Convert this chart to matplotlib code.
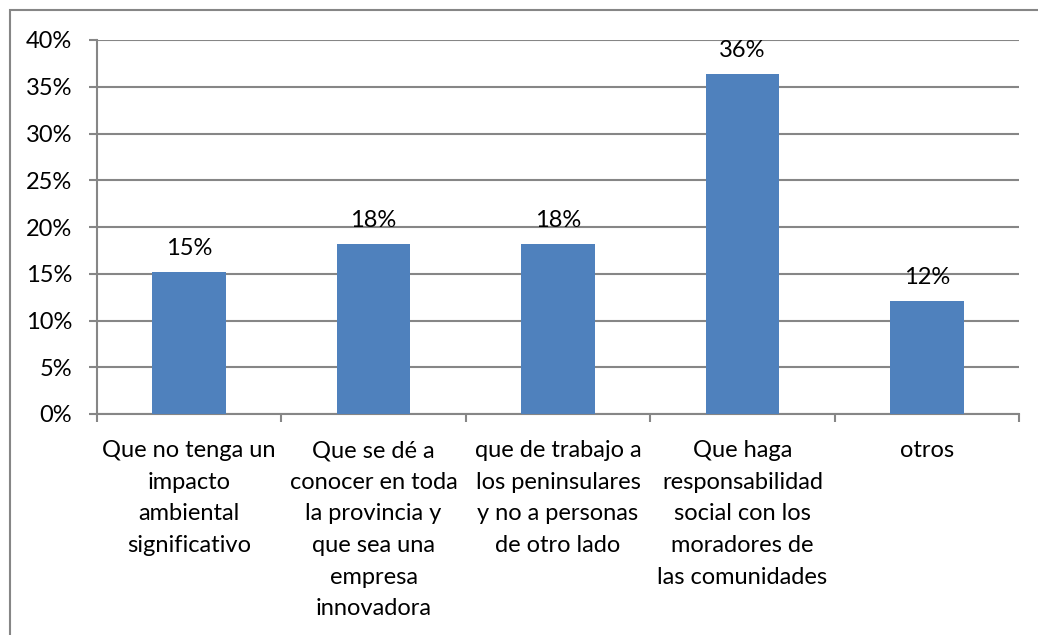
import numpy as np
import matplotlib.pyplot as plt
from matplotlib.patches import Rectangle
from matplotlib.ticker import FuncFormatter

categories = ['Que no tenga un\nimpacto\nambiental\nsignificativo',
              'Que se dé a\nconocer en toda\nla provincia y\nque sea una\nempresa\ninnovadora',
              'que de trabajo a\nlos peninsulares\ny no a personas\nde otro lado',
              'Que haga\nresponsabilidad\nsocial con los\nmoradores de\nlas comunidades',
              'otros']
values = [15.15, 18.18, 18.18, 36.36, 12.12]
bar_labels = ['15%', '18%', '18%', '36%', '12%']
yticks = [0, 5, 10, 15, 20, 25, 30, 35, 40]

plt.rcParams['font.family'] = ['Lato', 'DejaVu Sans']
grey = '#868686'
W, H = 1038, 635
fs = 17

fig = plt.figure(figsize=(W / 100, H / 100), dpi=100)
ax = fig.add_axes([97 / W, (H - 414) / H, (1019 - 97) / W, (414 - 40) / H])

x = np.arange(len(values))
bars = ax.bar(x, values, width=0.4, color='#4F81BD', zorder=3)
for b, lab in zip(bars, bar_labels):
    ax.annotate(lab, (b.get_x() + b.get_width() / 2, b.get_height()),
                xytext=(0, 13), textcoords='offset pixels',
                ha='center', va='bottom', fontsize=fs)

ax.set_xlim(-0.5, len(values) - 0.5)
ax.set_ylim(0, 40)
ax.set_yticks(yticks)
ax.yaxis.set_major_formatter(FuncFormatter(lambda v, p: '%d%%' % v))
ax.yaxis.grid(True, color=grey, linewidth=1.5, zorder=0)
ax.tick_params(axis='y', length=6, width=1.5, color=grey, labelsize=fs, pad=12)

# boundaries as major ticks, labels on minor ticks
ax.set_xticks(np.arange(-0.5, len(values), 1))
ax.set_xticklabels([])
ax.set_xticks(x, minor=True)
ax.set_xticklabels(categories, minor=True, fontsize=fs, linespacing=1.62, va='top')
ax.tick_params(axis='x', which='major', length=6, width=1.5, color=grey)
ax.tick_params(axis='x', which='minor', length=0, pad=19)

for s in ['top', 'right']:
    ax.spines[s].set_visible(False)
for s in ['left', 'bottom']:
    ax.spines[s].set_color(grey)
    ax.spines[s].set_linewidth(1.5)

fig.patches.append(Rectangle((9.5 / W, -0.1), 1.1, 1.1 - 10 / H,
                             transform=fig.transFigure, fill=False,
                             edgecolor=grey, linewidth=1.5))

fig.savefig('out.png', dpi=100)
